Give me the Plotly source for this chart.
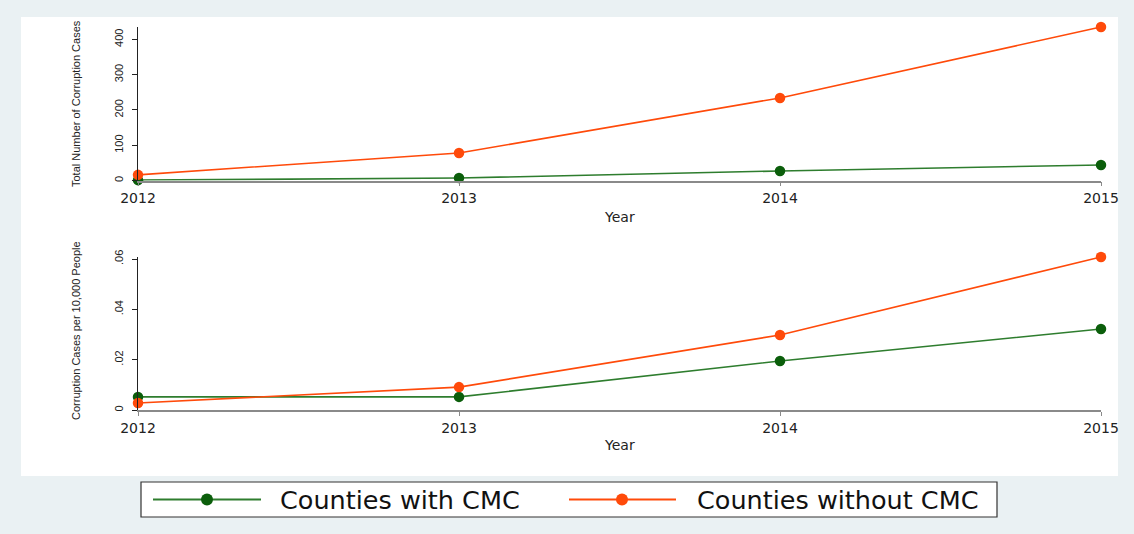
import plotly.graph_objects as go

# ---- data ----
years = [2012, 2013, 2014, 2015]
series_names = ["Counties with CMC", "Counties without CMC"]
total_with = [1, 7, 27, 44]
total_without = [16, 78, 234, 435]
rate_with = [0.0052, 0.0052, 0.0195, 0.0322]
rate_without = [0.0028, 0.0091, 0.0298, 0.0608]
top_ticks = [0, 100, 200, 300, 400]
top_ticklabels = ["0", "100", "200", "300", "400"]
bot_ticks = [0, 0.02, 0.04, 0.06]
bot_ticklabels = ["0", ".02", ".04", ".06"]

W, H = 1134, 534
GREEN_M = "#0b5e0b"
GREEN_L = "#2e7d2e"
ORANGE = "#ff4a0a"
BG = "#eaf1f3"
FONT = "Liberation Sans"
WIDE = "DejaVu Sans"


def px(x):
    return x / W


def py(y):
    return 1 - y / H


fig = go.Figure()

for xa, ya, vals, col_l, col_m, name in [
    ("x", "y", total_with, GREEN_L, GREEN_M, series_names[0]),
    ("x", "y", total_without, ORANGE, ORANGE, series_names[1]),
    ("x2", "y2", rate_with, GREEN_L, GREEN_M, series_names[0]),
    ("x2", "y2", rate_without, ORANGE, ORANGE, series_names[1]),
]:
    fig.add_trace(go.Scatter(
        x=years, y=vals, mode="lines+markers", name=name,
        xaxis=xa, yaxis=ya, showlegend=False, cliponaxis=False,
        line=dict(color=col_l, width=1.6),
        marker=dict(color=col_m, size=10.5),
    ))

xcommon = dict(
    range=[2012, 2015], domain=[px(138), px(1101)], automargin=False,
    tickvals=years, ticktext=[str(v) for v in years],
    showline=True, linecolor="#8a8a8a", linewidth=1.5,
    ticks="outside", ticklen=4, tickcolor="#8a8a8a",
    showgrid=False, zeroline=False,
    tickfont=dict(family=WIDE, size=14, color="#222"),
)
ycommon = dict(
    showline=True, linecolor="#222", linewidth=1.2, automargin=False,
    ticks="outside", ticklen=5, tickcolor="#222",
    showgrid=False, zeroline=False, tickangle=-90,
    ticklabelstandoff=5,
    tickfont=dict(family=FONT, size=11, color="#222"),
)

fig.update_layout(
    width=W, height=H,
    margin=dict(l=0, r=0, t=0, b=0, autoexpand=False),
    paper_bgcolor=BG, plot_bgcolor="white",
    showlegend=False,
    xaxis=dict(**xcommon, anchor="y"),
    yaxis=dict(**ycommon, range=[0, 435], domain=[py(180.5), py(27)],
               tickvals=top_ticks, ticktext=top_ticklabels, anchor="x"),
    xaxis2=dict(**xcommon, anchor="y2"),
    yaxis2=dict(**ycommon, range=[0, 0.0608], domain=[py(410), py(257)],
                tickvals=bot_ticks, ticktext=bot_ticklabels, anchor="x2"),
)

shapes = [
    dict(type="rect", xref="paper", yref="paper", layer="below",
         x0=px(21), x1=px(1118), y0=py(476), y1=py(17),
         fillcolor="white", line=dict(width=0)),
    dict(type="rect", xref="paper", yref="paper",
         x0=px(141), x1=px(997), y0=py(517), y1=py(482),
         fillcolor="white", line=dict(color="#333", width=1.2)),
    dict(type="line", xref="paper", yref="paper",
         x0=px(153), x1=px(261), y0=py(499.5), y1=py(499.5),
         line=dict(color=GREEN_L, width=1.8)),
    dict(type="line", xref="paper", yref="paper",
         x0=px(569), x1=px(676), y0=py(499.5), y1=py(499.5),
         line=dict(color=ORANGE, width=1.8)),
    dict(type="circle", xref="paper", yref="paper",
         x0=px(201), x1=px(213), y0=py(505.5), y1=py(493.5),
         fillcolor=GREEN_M, line=dict(color=GREEN_M, width=0)),
    dict(type="circle", xref="paper", yref="paper",
         x0=px(616), x1=px(628), y0=py(505.5), y1=py(493.5),
         fillcolor=ORANGE, line=dict(color=ORANGE, width=0)),
]
fig.update_layout(shapes=shapes)

ann = [
    dict(text="Total Number of Corruption Cases", x=px(76), y=py(104),
         textangle=-90, font=dict(family=FONT, size=11, color="#222")),
    dict(text="Corruption Cases per 10,000 People", x=px(76), y=py(331),
         textangle=-90, font=dict(family=FONT, size=11, color="#222")),
    dict(text="Year", x=px(619), y=py(217),
         font=dict(family=WIDE, size=14, color="#222")),
    dict(text="Year", x=px(619), y=py(445),
         font=dict(family=WIDE, size=14, color="#222")),
    dict(text=series_names[0], x=px(278), y=py(500), xanchor="left",
         font=dict(family=WIDE, size=25.5, color="#111")),
    dict(text=series_names[1], x=px(695), y=py(500), xanchor="left",
         font=dict(family=WIDE, size=25.5, color="#111")),
]
for a in ann:
    a.setdefault("xanchor", "center")
    fig.add_annotation(xref="paper", yref="paper", showarrow=False,
                       yanchor="middle", **a)

fig.write_html(
    "out.html",
    config={"displayModeBar": False},
    post_script="document.body.style.margin='0';"
                "document.body.style.background='" + BG + "';",
)
